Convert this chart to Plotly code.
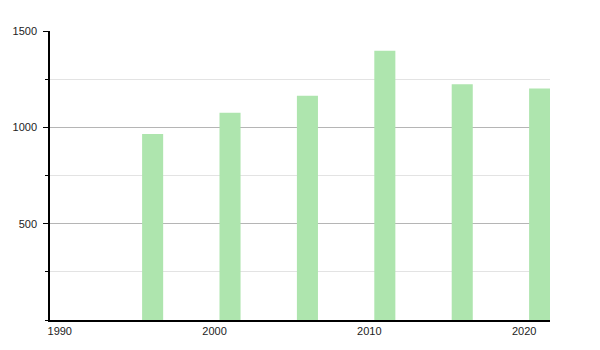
import plotly.graph_objects as go

years = [1996, 2001, 2006, 2011, 2016, 2021]
values = [966, 1076, 1164, 1397, 1224, 1202]
x_ticks = [1990, 2000, 2010, 2020]
y_ticks = [500, 1000, 1500]

fig = go.Figure(go.Bar(
    x=years, y=values, width=1.36,
    marker=dict(color="#aee5ae", line=dict(width=0)),
))

tick_font = dict(family="Liberation Sans, Arial, sans-serif", size=11, color="#222222")

fig.update_layout(
    template="none",
    width=600, height=350,
    margin=dict(l=50, r=50, t=31, b=30),
    paper_bgcolor="white", plot_bgcolor="white",
    showlegend=False,
    font=dict(family="Liberation Sans, Arial, sans-serif", size=11, color="#222222"),
    xaxis=dict(
        range=[1989.37, 2021.67], tickvals=x_ticks, ticktext=[str(v) for v in x_ticks],
        showline=True, linecolor="black", linewidth=1.5, ticks="", showgrid=False,
        zeroline=False, tickfont=tick_font,
    ),
    yaxis=dict(
        range=[0, 1500], tickvals=y_ticks, ticktext=[str(v) for v in y_ticks],
        showline=True, linecolor="black", linewidth=1.5,
        ticks="outside", ticklen=5, tickcolor="black", tickwidth=1,
        showgrid=True, gridcolor="#b5b5b5", gridwidth=1, zeroline=False,
        ticklabelstandoff=4, tickfont=tick_font,
        minor=dict(dtick=250, tick0=0, ticks="outside", ticklen=3, tickcolor="black",
                   showgrid=True, gridcolor="#e3e3e3", gridwidth=1),
    ),
)

fig.write_html("out.html")
